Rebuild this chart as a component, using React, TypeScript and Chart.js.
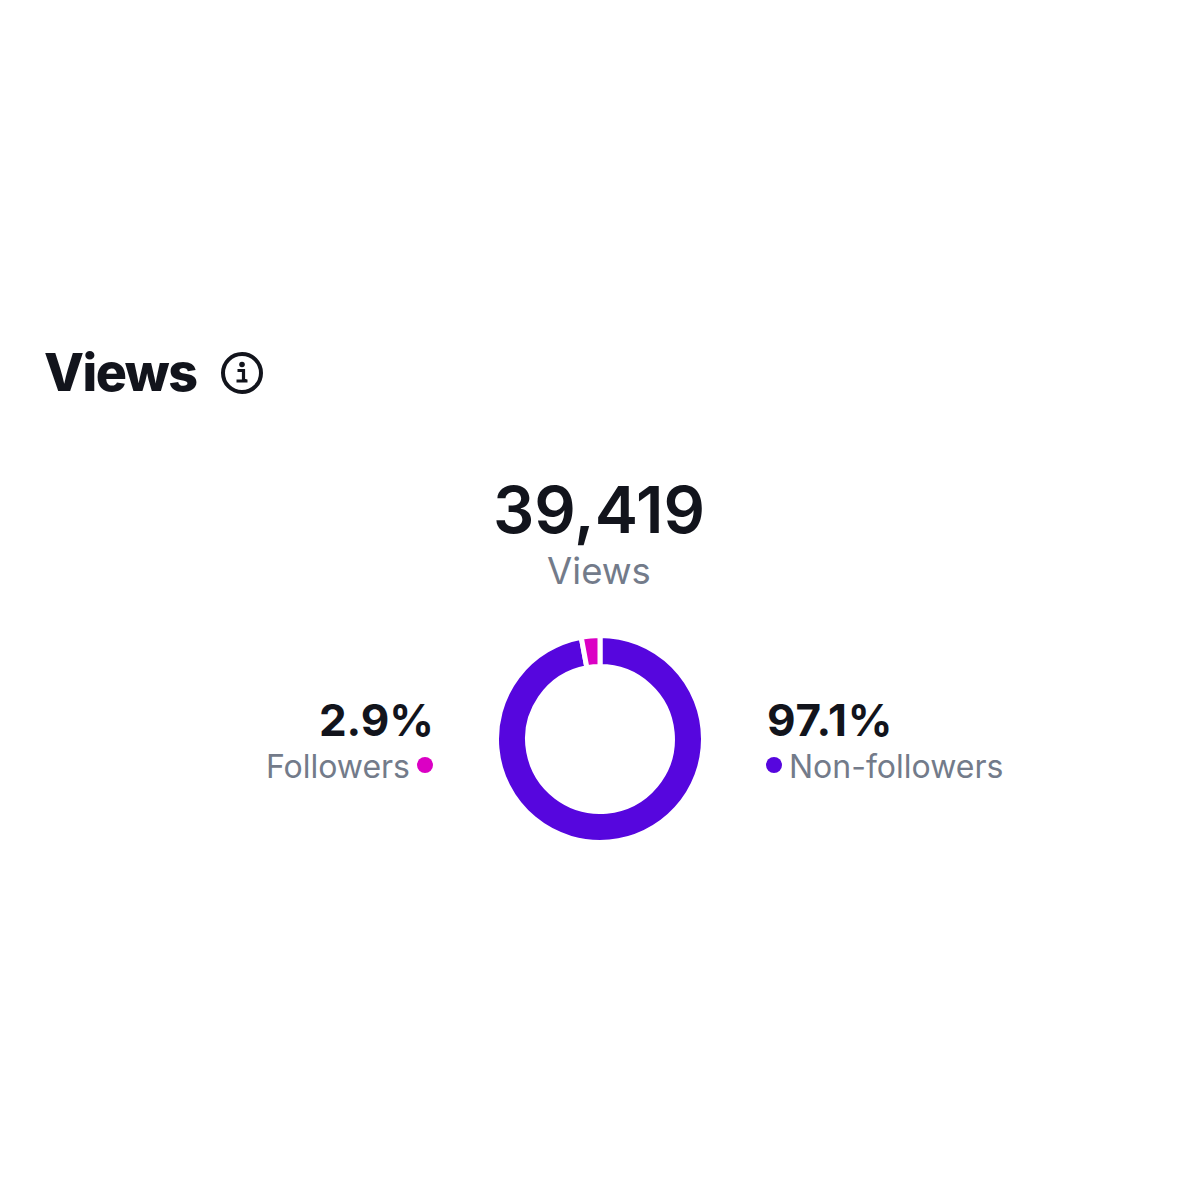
import React, { useEffect, useRef } from "react";
import { Chart, registerables } from "chart.js";

Chart.register(...registerables);

const categories = ["Non-followers", "Followers"];
const shares = [97.1, 2.9];
const sliceColors = ["#5606DE", "#DB00C4"];
const totalViews = "39,419";
const FONT = "Inter, 'Noto Sans', sans-serif";

function T({ x, y, size, weight, color, align, spacing, children }: any) {
  const style: React.CSSProperties = {
    position: "absolute",
    top: y,
    fontFamily: FONT,
    fontSize: size,
    fontWeight: weight,
    color,
    lineHeight: 1,
    whiteSpace: "nowrap",
    letterSpacing: spacing || 0,
  };
  if (align === "right") style.right = 1200 - x;
  else if (align === "center") { style.left = x; style.transform = "translateX(-50%)"; }
  else style.left = x;
  return <div style={style}>{children}</div>;
}

function Dot({ x, y, color }: any) {
  return <div style={{ position: "absolute", left: x - 8, top: y - 8, width: 16, height: 16, borderRadius: 8, background: color }} />;
}

export default function App() {
  const ref = useRef<HTMLCanvasElement>(null);
  useEffect(() => {
    const chart = new Chart(ref.current!, {
      type: "doughnut",
      data: {
        labels: categories,
        datasets: [{ data: shares, backgroundColor: sliceColors, borderColor: "#ffffff", borderWidth: 5, hoverOffset: 0 }],
      },
      options: {
        animation: false,
        responsive: false,
        cutout: "70%",
        rotation: 0,
        layout: { padding: 0 },
        plugins: { legend: { display: false }, tooltip: { enabled: false } },
      },
    });
    return () => chart.destroy();
  }, []);
  return (
    <div style={{ position: "absolute", left: 0, top: 0, width: 1200, height: 1200, background: "#fff", overflow: "hidden" }}>
      <T x={44} y={347} size={52} weight={800} spacing={-1.5} color="#12141C">Views</T>
      <svg style={{ position: "absolute", left: 220, top: 351 }} width="44" height="44" viewBox="0 0 44 44">
        <circle cx="22" cy="22" r="19" fill="none" stroke="#12141C" strokeWidth="4" />
        <circle cx="22" cy="13.5" r="2.8" fill="#12141C" />
        <path d="M17.5 19.5h6v10h3M16.5 30h11" fill="none" stroke="#12141C" strokeWidth="3.2" />
      </svg>
      <T x={599} y={477} size={65} weight={600} color="#12141C" align="center">{totalViews}</T>
      <T x={599} y={553} size={36.5} weight={400} color="#737B8A" align="center">Views</T>
      <canvas ref={ref} width={212} height={212} style={{ position: "absolute", left: 494, top: 633 }} />
      <T x={434} y={698} size={44} weight={700} color="#12141C" align="right">{shares[1]}%</T>
      <T x={410} y={751} size={32} weight={400} color="#737B8A" align="right">{categories[1]}</T>
      <Dot x={425} y={765} color={sliceColors[1]} />
      <T x={767} y={698} size={44} weight={700} spacing={0.8} color="#12141C">{shares[0]}%</T>
      <Dot x={774} y={765} color={sliceColors[0]} />
      <T x={789} y={751} size={32} weight={400} color="#737B8A">{categories[0]}</T>
    </div>
  );
}
